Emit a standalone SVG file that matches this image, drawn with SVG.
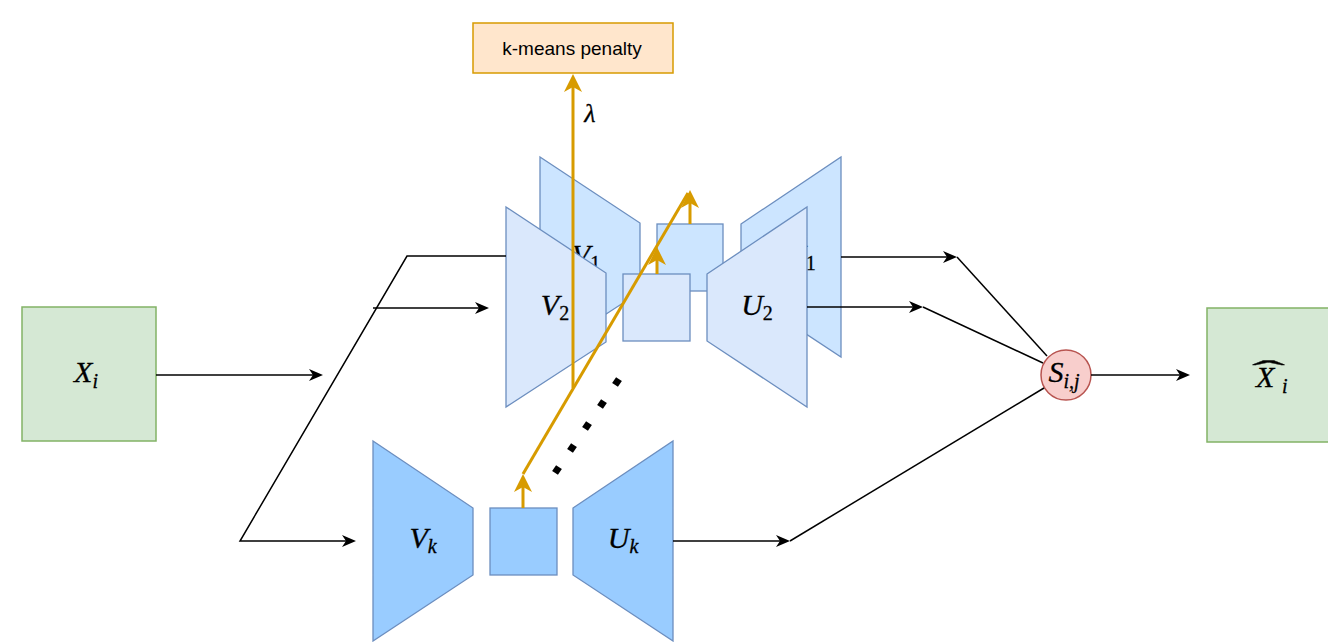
<svg xmlns="http://www.w3.org/2000/svg" width="1328" height="642" viewBox="0 0 1328 642">
<style>
.green{fill:#d5e8d4;stroke:#82b366;stroke-width:1.5}
.back{fill:#cce5ff;stroke:#6c8ebf;stroke-width:1.3}
.front{fill:#dae8fc;stroke:#6c8ebf;stroke-width:1.3}
.dark{fill:#99ccff;stroke:#6c8ebf;stroke-width:1.3}
.edge{fill:none;stroke:#000;stroke-width:1.5}
.oedge{fill:none;stroke:#d79b00;stroke-width:3}
.m{font-family:"Liberation Serif","DejaVu Serif",serif;font-style:italic;font-size:30px;fill:#000;stroke:#000;stroke-width:0.3;text-anchor:middle}
.sub{font-size:20px}
.up{font-style:normal}
.lam{font-size:26px}
.lbl{font-family:"Liberation Sans",Arial,sans-serif;font-size:19px;fill:#000;text-anchor:middle}
</style>
<defs>
<marker id="ab" markerUnits="userSpaceOnUse" markerWidth="14" markerHeight="12" refX="11" refY="6" orient="auto"><path d="M0,0 L14,6 L0,12 L4,6 Z" fill="#000"/></marker>
<marker id="ao" markerUnits="userSpaceOnUse" markerWidth="18" markerHeight="18" refX="13" refY="9" orient="auto"><path d="M0,0 L18,9 L0,18 L5,9 Z" fill="#d79b00"/></marker>
</defs>

<g id="Xi">
<rect class="green" x="22" y="307" width="134" height="134"/>
<text class="m" x="86" y="382">X<tspan class="sub" dy="6">i</tspan></text>
</g>

<g id="V1">
<polygon class="back" points="540,157 640,223 640,292 540,357"/>
<text class="m" x="586" y="265">V<tspan class="sub up" dy="5">1</tspan></text>
</g>
<g id="U1">
<polygon class="back" points="741,224 841,157 841,357 741,291"/>
<text class="m" x="800" y="265">U<tspan class="sub up" dy="5">1</tspan></text>
</g>
<g id="Z1">
<rect class="back" x="657" y="224" width="66" height="67"/>
</g>

<g id="V2">
<polygon class="front" points="506,207 606,273 606,342 506,407"/>
<text class="m" x="555" y="315">V<tspan class="sub up" dy="5">2</tspan></text>
</g>
<g id="Z2">
<rect class="front" x="623" y="274" width="67" height="67"/>
</g>
<g id="U2">
<polygon class="front" points="707,274 807,207 807,407 707,341"/>
<text class="m" x="757" y="315">U<tspan class="sub up" dy="5">2</tspan></text>
</g>

<g id="Vk">
<polygon class="dark" points="373,441 473,508 473,575 373,641"/>
<text class="m" x="423" y="548">V<tspan class="sub" dy="5">k</tspan></text>
</g>
<g id="Zk">
<rect class="dark" x="490" y="508" width="67" height="67"/>
</g>
<g id="Uk">
<polygon class="dark" points="573,508 673,441 673,641 573,575"/>
<text class="m" x="623" y="548">U<tspan class="sub" dy="5">k</tspan></text>
</g>

<g id="penalty">
<rect x="473" y="23" width="200" height="50" fill="#ffe6cc" stroke="#d79b00" stroke-width="1.5"/>
<text class="lbl" x="572" y="55">k-means penalty</text>
</g>

<g id="S">
<circle cx="1066" cy="375" r="25" fill="#f8cecc" stroke="#b85450" stroke-width="1.5"/>
<text class="m" x="1064" y="382">S<tspan class="sub" dy="6">i,j</tspan></text>
</g>

<g id="Xhat">
<rect class="green" x="1207" y="308" width="134" height="134"/>
<text class="m" style="text-anchor:start" x="1256" y="387">X<tspan class="sub" x="1282" y="393">i</tspan><tspan font-style="normal" font-size="30" x="1252" y="381" textLength="33" lengthAdjust="spacingAndGlyphs">ˆ</tspan></text>
</g>

<g id="dots" fill="#000">
<rect x="-3.5" y="-3.5" width="7" height="7" transform="translate(617,382) rotate(34)"/>
<rect x="-3.5" y="-3.5" width="7" height="7" transform="translate(602,404) rotate(34)"/>
<rect x="-3.5" y="-3.5" width="7" height="7" transform="translate(587,426) rotate(34)"/>
<rect x="-3.5" y="-3.5" width="7" height="7" transform="translate(572,448) rotate(34)"/>
<rect x="-3.5" y="-3.5" width="7" height="7" transform="translate(557,470) rotate(34)"/>
</g>

<g id="connectors">
<path class="edge" d="M156,375 H320" marker-end="url(#ab)"/>
<path class="edge" d="M506,256 H407 L240,541 H353" marker-end="url(#ab)"/>
<path class="edge" d="M373,308 H486" marker-end="url(#ab)"/>
<path class="edge" d="M841,257 H954" marker-end="url(#ab)"/>
<path class="edge" d="M957,257 L1047,356"/>
<path class="edge" d="M807,307 H920" marker-end="url(#ab)"/>
<path class="edge" d="M923,307 L1043,363"/>
<path class="edge" d="M673,541 H787" marker-end="url(#ab)"/>
<path class="edge" d="M790,541 L1044,388"/>
<path class="edge" d="M1091,375 H1187" marker-end="url(#ab)"/>
<path class="oedge" d="M523,508 V479" marker-end="url(#ao)"/>
<path class="oedge" d="M657,274 V252" marker-end="url(#ao)"/>
<path class="oedge" d="M690,224 V195" marker-end="url(#ao)"/>
<path class="oedge" d="M523,474 L688,193"/>
<path class="oedge" d="M573,388 V79" marker-end="url(#ao)"/>
<text class="m lam" x="590" y="122">λ</text>
</g>
</svg>
